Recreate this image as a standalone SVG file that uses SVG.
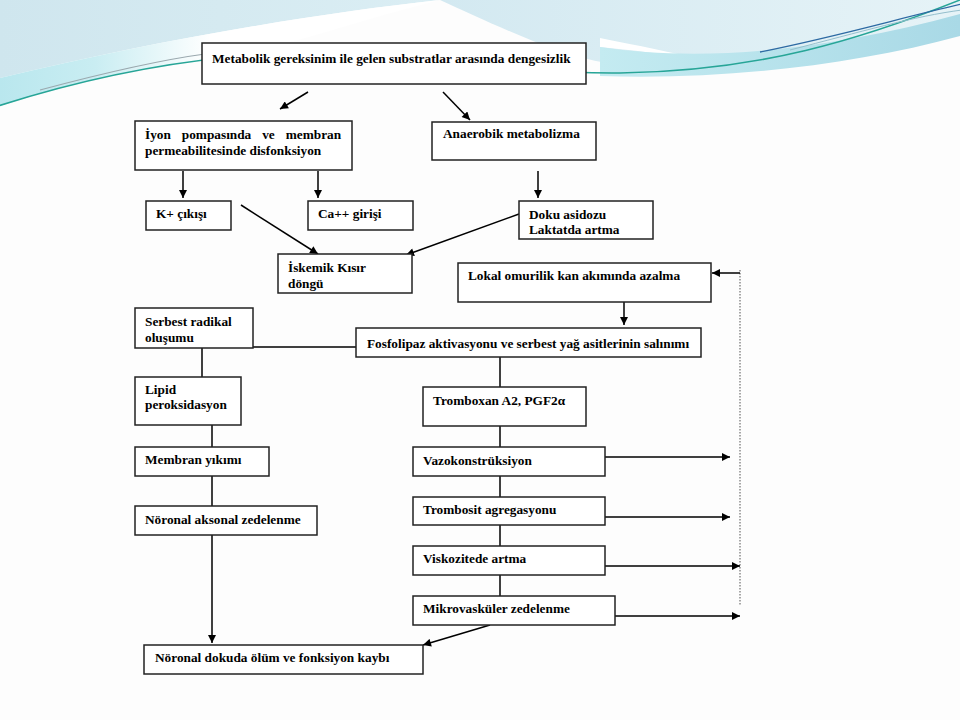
<svg xmlns="http://www.w3.org/2000/svg" width="960" height="720" viewBox="0 0 960 720">
<defs>
<linearGradient id="gl" x1="0" y1="0" x2="1" y2="0">
<stop offset="0" stop-color="#cfe6ee"/>
<stop offset="1" stop-color="#dbeef4"/>
</linearGradient>
<linearGradient id="gs" gradientUnits="userSpaceOnUse" x1="0" y1="0" x2="210" y2="0">
<stop offset="0" stop-color="#b9e7ee"/>
<stop offset="0.45" stop-color="#c9edf2"/>
<stop offset="1" stop-color="#ffffff"/>
</linearGradient>
<linearGradient id="gr" x1="0" y1="0" x2="1" y2="0">
<stop offset="0" stop-color="#d3e9f1"/>
<stop offset="1" stop-color="#e6f3f7"/>
</linearGradient>
<linearGradient id="gc" x1="0" y1="0" x2="1" y2="0">
<stop offset="0" stop-color="#c4ebf1"/>
<stop offset="1" stop-color="#a9d9e6"/>
</linearGradient>
<marker id="ah" viewBox="0 0 10 10" refX="10" refY="5" markerWidth="9" markerHeight="8" markerUnits="userSpaceOnUse" orient="auto">
<path d="M0,0 L10,5 L0,10 Z" fill="#000"/>
</marker>
<style>
.box{fill:#fff;stroke:#222;stroke-width:1.5}
.t{font-family:"Liberation Serif","Times New Roman",serif;font-weight:bold;font-size:13.3px;fill:#000}
.c{fill:none;stroke:#000;stroke-width:1.5}
.a{fill:none;stroke:#000;stroke-width:1.5;marker-end:url(#ah)}
.dot{fill:none;stroke:#8a8a8a;stroke-width:1.5;stroke-dasharray:1.5 1.5}
</style>
</defs>
<rect x="0" y="0" width="960" height="720" fill="#fdfdfd"/>
<g id="background">
<path d="M0,0 L440,0 C310,14 150,42 0,78 Z" fill="url(#gl)"/>
<path d="M0,78 C150,42 310,14 440,0 C360,20 290,45 230,57 C140,66 60,86 0,106 Z" fill="url(#gs)"/>
<path d="M440,0 L960,0 L960,22 C880,45 790,66 700,70 C640,72 590,62 550,48 C510,32 470,14 440,0 Z" fill="url(#gr)"/>
<path d="M600,38 C640,46 670,52 705,60 C665,54 630,50 600,47 Z" fill="#ffffff"/>
<path d="M600,47 C700,62 820,52 960,14 L960,36 C850,66 720,80 600,76 Z" fill="url(#gc)"/>
<path d="M-5,107 C60,86 140,66 230,57 C380,50 480,74 620,73 C760,71 860,40 965,-2" fill="none" stroke="#27a597" stroke-width="1.6"/>
<path d="M40,90 C100,74 160,60 205,54" fill="none" stroke="#9aa8ae" stroke-width="1.2"/>
<path d="M760,52 C840,36 900,18 962,4" fill="none" stroke="#2d6aa3" stroke-width="1.3"/>
<path d="M790,50 C860,32 915,16 962,10" fill="none" stroke="#94bfcd" stroke-width="1"/>
</g>
<g id="connectors">
<line class="a" x1="308" y1="92" x2="280" y2="109"/>
<line class="a" x1="443" y1="92" x2="470" y2="120"/>
<line class="a" x1="183" y1="171" x2="183" y2="198"/>
<line class="a" x1="318" y1="171" x2="318" y2="198"/>
<line class="a" x1="538" y1="171" x2="538" y2="198"/>
<line class="a" x1="241" y1="205" x2="318" y2="254"/>
<line class="a" x1="519" y1="214" x2="406" y2="255"/>
<line class="dot" x1="740" y1="270" x2="740" y2="606"/>
<line class="a" x1="740" y1="273" x2="712" y2="273"/>
<line class="a" x1="624" y1="302" x2="624" y2="325"/>
<line class="c" x1="240" y1="347" x2="356" y2="347"/>
<line class="c" x1="202" y1="348" x2="202" y2="377"/>
<line class="c" x1="500" y1="357" x2="500" y2="387"/>
<line class="c" x1="500" y1="426" x2="500" y2="447"/>
<line class="c" x1="500" y1="476" x2="500" y2="497"/>
<line class="c" x1="500" y1="525" x2="500" y2="546"/>
<line class="c" x1="500" y1="575" x2="500" y2="596"/>
<line class="c" x1="212" y1="425" x2="212" y2="447"/>
<line class="c" x1="212" y1="476" x2="212" y2="506"/>
<line class="a" x1="212" y1="535" x2="212" y2="643"/>
<line class="a" x1="490" y1="625" x2="423" y2="645"/>
<line class="a" x1="605" y1="457" x2="730" y2="457"/>
<line class="a" x1="605" y1="517" x2="730" y2="517"/>
<line class="a" x1="605" y1="566" x2="740" y2="566"/>
<line class="a" x1="615" y1="616" x2="740" y2="616"/>
</g>
<g id="n-metabolik">
<rect class="box" x="202" y="43" width="384" height="41"/>
<text class="t" x="212" y="63">Metabolik gereksinim ile gelen substratlar arasında dengesizlik</text>
</g>
<g id="n-iyon">
<rect class="box" x="135" y="121" width="217" height="49"/>
<text class="t" y="139"><tspan x="145">İyon</tspan><tspan x="181.8">pompasında</tspan><tspan x="262.2">ve</tspan><tspan x="285.7">membran</tspan></text>
<text class="t" x="145" y="155">permeabilitesinde disfonksiyon</text>
</g>
<g id="n-anaerobik">
<rect class="box" x="432" y="122" width="164" height="38"/>
<text class="t" x="443" y="138">Anaerobik metabolizma</text>
</g>
<g id="n-k">
<rect class="box" x="146" y="201" width="85" height="29"/>
<text class="t" x="156" y="218">K+ çıkışı</text>
</g>
<g id="n-ca">
<rect class="box" x="308" y="201" width="105" height="29"/>
<text class="t" x="318" y="218">Ca++ girişi</text>
</g>
<g id="n-doku">
<rect class="box" x="519" y="201" width="134" height="38"/>
<text class="t" x="529" y="219">Doku asidozu</text>
<text class="t" x="529" y="234">Laktatda artma</text>
</g>
<g id="n-iskemik">
<rect class="box" x="278" y="254" width="134" height="39"/>
<text class="t" x="288" y="272">İskemik Kısır</text>
<text class="t" x="288" y="288">döngü</text>
</g>
<g id="n-lokal">
<rect class="box" x="458" y="263" width="253" height="39"/>
<text class="t" x="468" y="280">Lokal omurilik kan akımında azalma</text>
</g>
<g id="n-serbest">
<rect class="box" x="135" y="308" width="118" height="40"/>
<text class="t" x="145" y="326">Serbest radikal</text>
<text class="t" x="145" y="342">oluşumu</text>
</g>
<g id="n-fosfolipaz">
<rect class="box" x="356" y="328" width="345" height="29"/>
<text class="t" x="367" y="348">Fosfolipaz aktivasyonu ve serbest yağ asitlerinin salınımı</text>
</g>
<g id="n-lipid">
<rect class="box" x="135" y="377" width="106" height="48"/>
<text class="t" x="145" y="394">Lipid</text>
<text class="t" x="145" y="409">peroksidasyon</text>
</g>
<g id="n-tromboxan">
<rect class="box" x="423" y="387" width="163" height="39"/>
<text class="t" x="433" y="405">Tromboxan A2, PGF2α</text>
</g>
<g id="n-membran">
<rect class="box" x="135" y="447" width="134" height="29"/>
<text class="t" x="145" y="464">Membran yıkımı</text>
</g>
<g id="n-vazo">
<rect class="box" x="413" y="447" width="192" height="29"/>
<text class="t" x="423" y="465">Vazokonstrüksiyon</text>
</g>
<g id="n-trombosit">
<rect class="box" x="413" y="497" width="192" height="28"/>
<text class="t" x="423" y="514">Trombosit agregasyonu</text>
</g>
<g id="n-aksonal">
<rect class="box" x="135" y="506" width="182" height="29"/>
<text class="t" x="145" y="524">Nöronal aksonal zedelenme</text>
</g>
<g id="n-viskozite">
<rect class="box" x="413" y="546" width="192" height="29"/>
<text class="t" x="423" y="563">Viskozitede artma</text>
</g>
<g id="n-mikro">
<rect class="box" x="413" y="596" width="202" height="29"/>
<text class="t" x="423" y="613">Mikrovasküler zedelenme</text>
</g>
<g id="n-noronal">
<rect class="box" x="144" y="645" width="279" height="29"/>
<text class="t" x="155" y="662">Nöronal dokuda ölüm ve fonksiyon kaybı</text>
</g>
</svg>
